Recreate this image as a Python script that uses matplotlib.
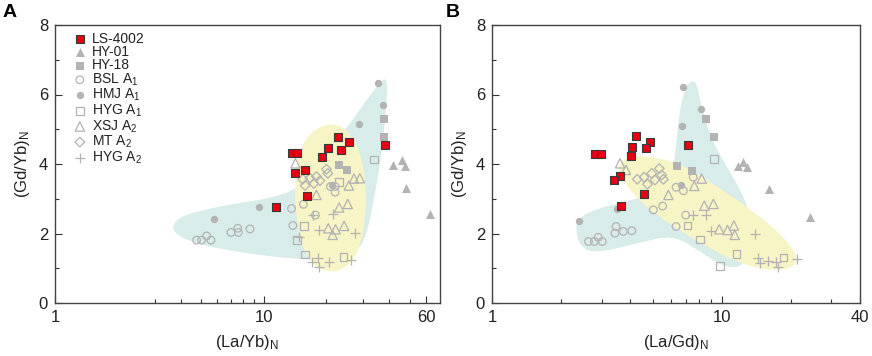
import numpy as np
import matplotlib
matplotlib.use("Agg")
import matplotlib.pyplot as plt
from matplotlib.path import Path
from matplotlib.patches import PathPatch

plt.rcParams['font.family'] = ['Liberation Sans', 'DejaVu Sans']
plt.rcParams['mathtext.default'] = 'regular'

# ---- panel A: (La/Yb)N vs (Gd/Yb)N ----
ls_a_x = [13.6, 14.4, 22.8, 25.7, 20.3, 23.4, 19.0, 38.3, 15.8, 14.2, 16.1, 11.5]
ls_a_y = [4.31, 4.31, 4.77, 4.62, 4.47, 4.40, 4.19, 4.55, 3.83, 3.74, 3.09, 2.75]
hy01_a_x = [41.8, 45.8, 47.5, 47.9, 62.6]
hy01_a_y = [3.97, 4.12, 3.94, 3.32, 2.56]
hy18_a_x = [37.8, 37.6, 22.9, 25.0]
hy18_a_y = [5.29, 4.77, 3.97, 3.83]
bsl_a_x = [4.77, 5.04, 5.33, 5.59, 6.97, 7.51, 7.56, 8.60, 13.6, 13.8, 15.5, 17.7, 20.9, 22.0, 22.0]
bsl_a_y = [1.81, 1.81, 1.93, 1.81, 2.03, 2.15, 2.03, 2.13, 2.72, 2.23, 2.84, 2.53, 3.35, 3.35, 3.19]
hmj_a_x = [35.2, 37.4, 28.7, 9.46, 5.78, 21.2]
hmj_a_y = [6.34, 5.71, 5.15, 2.76, 2.41, 3.40]
hyg1_a_x = [33.9, 23.0, 15.6, 14.4, 15.8, 24.1]
hyg1_a_y = [4.13, 3.49, 2.22, 1.81, 1.40, 1.33]
xsj_a_x = [14.2, 17.9, 23.0, 25.3, 20.4, 22.1, 24.3, 21.4, 25.6, 27.1, 28.9]
xsj_a_y = [4.02, 3.11, 2.75, 2.85, 2.15, 2.12, 2.22, 1.96, 3.38, 3.58, 3.59]
mt_a_x = [15.4, 15.8, 16.7, 17.4, 17.9, 18.6, 20.0, 20.3]
mt_a_y = [3.56, 3.38, 3.59, 3.44, 3.64, 3.52, 3.85, 3.73]
hyg2_a_x = [17.3, 21.4, 18.5, 27.4, 14.8, 17.1, 18.3, 18.4, 20.6, 26.1]
hyg2_a_y = [2.53, 2.55, 2.10, 2.02, 1.91, 1.19, 1.29, 1.05, 1.19, 1.24]

# field outlines, panel A
teal_a_x = [3.62, 3.97, 5.14, 7.42, 10.7, 14.9, 19.3, 25.0, 31.1, 37.4, 39.1, 38.8,
            37.2, 34.2, 31.4, 27.9, 19.3, 14.4, 10.3, 6.41, 4.60, 3.83]
teal_a_y = [2.20, 2.48, 2.68, 2.87, 3.01, 3.30, 4.21, 5.03, 5.84, 6.47, 6.40, 5.75,
            4.50, 3.16, 2.01, 1.43, 1.24, 1.27, 1.35, 1.54, 1.74, 1.96]
yellow_a_x = [21.2, 25.4, 28.9, 31.1, 30.6, 27.9, 23.6, 20.0, 17.3, 15.2, 14.4, 14.0, 14.7, 16.7]
yellow_a_y = [5.20, 4.98, 4.40, 3.35, 2.20, 1.33, 0.93, 0.90, 1.09, 1.62, 2.39, 3.35, 4.31, 4.93]

# ---- panel B: (La/Gd)N vs (Gd/Yb)N ----
ls_b_x = [2.81, 2.98, 4.22, 4.86, 4.06, 4.67, 4.03, 7.11, 3.62, 3.39, 4.59, 3.66]
ls_b_y = [4.30, 4.30, 4.80, 4.64, 4.50, 4.46, 4.22, 4.56, 3.65, 3.54, 3.14, 2.79]
hy01_b_x = [11.8, 12.4, 12.9, 16.0, 24.2]
hy01_b_y = [3.94, 4.07, 3.92, 3.28, 2.47]
hy18_b_x = [8.52, 9.26, 6.41, 7.45]
hy18_b_y = [5.29, 4.77, 3.94, 3.80]
bsl_b_x = [2.63, 2.79, 3.02, 2.90, 3.47, 3.43, 3.73, 4.06, 5.04, 5.53, 6.33, 6.97, 6.33, 6.81, 7.52]
bsl_b_y = [1.77, 1.77, 1.77, 1.89, 2.20, 2.01, 2.06, 2.08, 2.68, 2.79, 2.20, 2.53, 3.33, 3.23, 3.62]
hmj_b_x = [6.76, 8.13, 6.70, 3.49, 2.39, 6.63]
hmj_b_y = [6.21, 5.57, 5.09, 2.70, 2.37, 3.40]
hyg1_b_x = [9.26, 7.11, 8.05, 11.6, 9.83, 18.6]
hyg1_b_y = [4.15, 2.23, 1.83, 1.41, 1.07, 1.31]
xsj_b_x = [3.61, 3.83, 5.86, 8.40, 9.20, 9.76, 10.6, 11.3, 11.4, 7.60, 8.18]
xsj_b_y = [4.02, 3.83, 3.11, 2.80, 2.85, 2.12, 2.10, 2.23, 1.96, 3.37, 3.58]
mt_b_x = [4.29, 4.59, 4.96, 5.35, 5.48, 5.12, 4.75, 5.57]
mt_b_y = [3.56, 3.62, 3.73, 3.87, 3.68, 3.54, 3.42, 3.56]
hyg2_b_x = [7.47, 8.51, 8.95, 13.9, 14.4, 14.7, 15.9, 17.2, 17.6, 21.3]
hyg2_b_y = [2.53, 2.53, 2.08, 2.00, 1.30, 1.16, 1.22, 1.19, 1.05, 1.26]

teal_b_x = [2.35, 2.76, 3.99, 5.39, 6.16, 6.33, 6.54, 6.92, 7.40, 7.78, 8.10, 8.89,
            10.5, 12.8, 13.7, 12.8, 10.5, 8.05, 6.16, 4.41, 2.76, 2.40, 2.32]
teal_b_y = [2.41, 2.68, 2.96, 3.16, 3.83, 4.59, 5.46, 6.18, 6.42, 6.32, 5.75, 4.79,
            3.92, 2.96, 2.01, 1.09, 0.99, 1.48, 1.96, 1.74, 1.41, 1.67, 2.10]
yellow_b_x = [3.61, 4.06, 5.04, 6.81, 9.83, 14.2, 19.2, 21.6, 20.2, 16.2, 12.0, 8.60, 6.16, 4.56, 3.79, 3.53]
yellow_b_y = [4.07, 4.23, 4.21, 3.97, 3.30, 2.58, 1.81, 1.26, 1.00, 0.93, 1.14, 1.62, 2.20, 2.82, 3.44, 3.78]

TEAL = '#d8ecea'
YELLOW = '#f7f4c6'
GREY = '#b3b3b3'
RED = '#e60012'


def field(ax, xs, ys, color):
    # smooth closed outline: control points are the listed vertices
    lx = np.log10(xs)
    ys = np.asarray(ys)
    n = len(lx)
    mx = 10 ** ((lx + np.roll(lx, -1)) / 2)
    my = (ys + np.roll(ys, -1)) / 2
    verts = [(mx[-1], my[-1])]
    codes = [Path.MOVETO]
    for i in range(n):
        verts += [(xs[i], ys[i]), (mx[i], my[i])]
        codes += [Path.CURVE3, Path.CURVE3]
    verts.append((mx[-1], my[-1]))
    codes.append(Path.CLOSEPOLY)
    ax.add_patch(PathPatch(Path(verts, codes), facecolor=color, edgecolor='none', zorder=1))


def draw_points(ax, d):
    ax.scatter(d['hy01'][0], d['hy01'][1], marker='^', s=42, color=GREY, lw=0, zorder=3, label='HY-01')
    ax.scatter(d['hy18'][0], d['hy18'][1], marker='s', s=26, color=GREY, lw=0, zorder=3, label='HY-18')
    ax.scatter(d['bsl'][0], d['bsl'][1], marker='o', s=30, facecolor='none', edgecolor=GREY, lw=0.9, zorder=3,
               label='BSL A$_1$')
    ax.scatter(d['hmj'][0], d['hmj'][1], marker='o', s=28, color=GREY, lw=0, zorder=3, label='HMJ A$_1$')
    ax.scatter(d['hyg1'][0], d['hyg1'][1], marker='s', s=30, facecolor='none', edgecolor=GREY, lw=0.9, zorder=3,
               label='HYG A$_1$')
    ax.scatter(d['xsj'][0], d['xsj'][1], marker='^', s=45, facecolor='none', edgecolor=GREY, lw=0.9, zorder=3,
               label='XSJ A$_2$')
    ax.scatter(d['mt'][0], d['mt'][1], marker='D', s=24, facecolor='none', edgecolor=GREY, lw=0.9, zorder=3,
               label='MT A$_2$')
    ax.scatter(d['hyg2'][0], d['hyg2'][1], marker='+', s=42, color=GREY, lw=0.9, zorder=3, label='HYG A$_2$')
    ax.scatter(d['ls'][0], d['ls'][1], marker='s', s=36, facecolor=RED, edgecolor='#3a3a3a', lw=0.8, zorder=4,
               label='LS-4002')


def style(ax, xmax, majors, labels, minors, xlabel):
    ax.set_xscale('log')
    ax.set_xlim(1, xmax)
    ax.set_ylim(0, 8)
    ax.set_xticks(majors)
    ax.set_xticklabels(labels)
    ax.set_xticks(minors, minor=True)
    ax.xaxis.set_minor_formatter(plt.NullFormatter())
    ax.set_yticks([0, 2, 4, 6, 8])
    ax.set_yticks([1, 3, 5, 7], minor=True)
    ax.tick_params(which='both', direction='in', labelsize=12, colors='#333333', labelcolor='#222222', pad=5)
    ax.tick_params(which='major', length=5, width=0.8)
    ax.tick_params(which='minor', length=3, width=0.8)
    for sp in ax.spines.values():
        sp.set_color('#444444')
        sp.set_linewidth(1.0)
    ax.set_xlabel(xlabel, fontsize=12, color='#222222', labelpad=6)
    ax.set_ylabel('(Gd/Yb)$_N$', fontsize=12, color='#222222', labelpad=5)


fig = plt.figure(figsize=(8.72, 3.56), dpi=100)
ax1 = fig.add_axes([55 / 872, 53 / 356, 385 / 872, 278 / 356])
ax2 = fig.add_axes([492 / 872, 53 / 356, 368 / 872, 278 / 356])

field(ax1, teal_a_x, teal_a_y, TEAL)
field(ax1, yellow_a_x, yellow_a_y, YELLOW)
draw_points(ax1, {'ls': (ls_a_x, ls_a_y), 'hy01': (hy01_a_x, hy01_a_y), 'hy18': (hy18_a_x, hy18_a_y),
                  'bsl': (bsl_a_x, bsl_a_y), 'hmj': (hmj_a_x, hmj_a_y), 'hyg1': (hyg1_a_x, hyg1_a_y),
                  'xsj': (xsj_a_x, xsj_a_y), 'mt': (mt_a_x, mt_a_y), 'hyg2': (hyg2_a_x, hyg2_a_y)})
style(ax1, 70, [1, 10, 60], ['1', '10', '60'], [3, 4, 5, 6, 7, 8, 9, 20, 30, 40, 50], '(La/Yb)$_N$')

field(ax2, teal_b_x, teal_b_y, TEAL)
field(ax2, yellow_b_x, yellow_b_y, YELLOW)
draw_points(ax2, {'ls': (ls_b_x, ls_b_y), 'hy01': (hy01_b_x, hy01_b_y), 'hy18': (hy18_b_x, hy18_b_y),
                  'bsl': (bsl_b_x, bsl_b_y), 'hmj': (hmj_b_x, hmj_b_y), 'hyg1': (hyg1_b_x, hyg1_b_y),
                  'xsj': (xsj_b_x, xsj_b_y), 'mt': (mt_b_x, mt_b_y), 'hyg2': (hyg2_b_x, hyg2_b_y)})
style(ax2, 40, [1, 10, 40], ['1', '10', '40'], [2, 3, 4, 5, 6, 7, 8, 9, 20, 30], '(La/Gd)$_N$')

# legend in panel A, red samples first
handles, labels = ax1.get_legend_handles_labels()
order = [8, 0, 1, 2, 3, 4, 5, 6, 7]
leg = ax1.legend([handles[i] for i in order], [labels[i] for i in order], loc='upper left',
                 bbox_to_anchor=(0.05, 0.975), frameon=False, fontsize=10, handlelength=0.8,
                 handletextpad=0.5, labelspacing=-0.06, borderpad=0, borderaxespad=0, scatterpoints=1)
for t in leg.get_texts():
    t.set_color('#222222')

fig.text(0.011, 0.966, 'A', fontsize=14, fontweight='bold', ha='center', va='center')
fig.text(0.519, 0.966, 'B', fontsize=14, fontweight='bold', ha='center', va='center')

fig.savefig('out.png', dpi=100)
